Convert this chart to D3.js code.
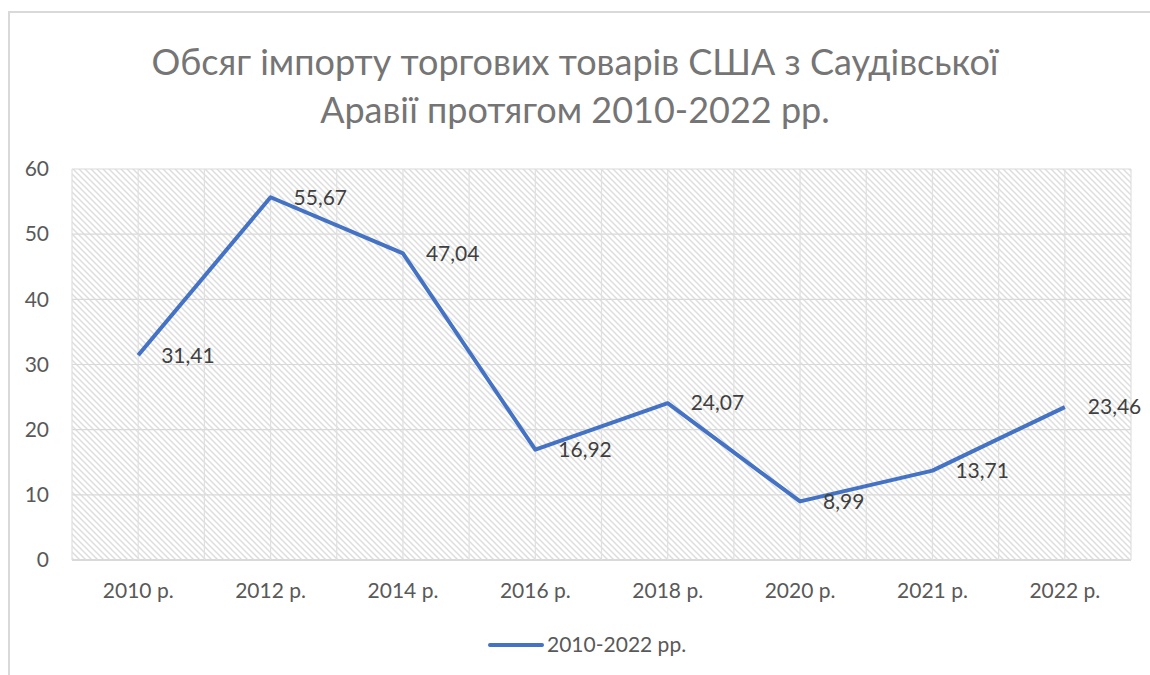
<!DOCTYPE html>
<html><head><meta charset="utf-8">
<script src="https://cdn.jsdelivr.net/npm/d3@7"></script>
<style>body{margin:0;background:#fff}svg{display:block}</style>
</head><body>
<svg id="c" width="1150" height="675"></svg>
<script>
const categories = ["2010 р.","2012 р.","2014 р.","2016 р.","2018 р.","2020 р.","2021 р.","2022 р."];
const values = [31.41, 55.67, 47.04, 16.92, 24.07, 8.99, 13.71, 23.46];
const yTicks = [0,10,20,30,40,50,60];
const titleLines = ["Обсяг імпорту торгових товарів США з Саудівської","Аравії протягом 2010-2022 рр."];
const seriesName = "2010-2022 рр.";

const svg = d3.select("#c");
const font = "Lato, 'Open Sans', sans-serif";
const m = {l:72, r:1131, t:169, b:560};

// chart border
svg.append("rect").attr("x",9).attr("y",12).attr("width",1160).attr("height",700)
  .attr("fill","#fff").attr("stroke","#d9d9d9").attr("stroke-width",2);

// pattern
const defs = svg.append("defs");
const pat = defs.append("pattern").attr("id","hatch").attr("patternUnits","userSpaceOnUse")
  .attr("width",6).attr("height",6);
pat.append("rect").attr("width",6).attr("height",6).attr("fill","#fff");
pat.append("path").attr("d","M-1,-1 L7,7 M-1,5 L1,7 M5,-1 L7,1").attr("stroke","#dedede").attr("stroke-width",1.5);

const x = d3.scaleBand().domain(categories).range([m.l,m.r]);
const y = d3.scaleLinear().domain([0,60]).range([m.b,m.t]);

svg.append("rect").attr("x",m.l).attr("y",m.t).attr("width",m.r-m.l).attr("height",m.b-m.t).attr("fill","url(#hatch)");

// gridlines
const g = svg.append("g");
yTicks.forEach(t=>{
  g.append("line").attr("x1",m.l).attr("x2",m.r).attr("y1",y(t)).attr("y2",y(t))
   .attr("stroke","#d9d9d9").attr("stroke-width",t===0?2:1.2);
});
categories.forEach((c,i)=>{
  [x(c), x(c)+x.bandwidth()/2].forEach(px=>{
    g.append("line").attr("x1",px).attr("x2",px).attr("y1",m.t).attr("y2",m.b)
     .attr("stroke","#e0e0e0").attr("stroke-width",1.2);
  });
});
g.append("line").attr("x1",m.r).attr("x2",m.r).attr("y1",m.t).attr("y2",m.b).attr("stroke","#e0e0e0").attr("stroke-width",1.2);

// axes labels
const yAxis = d3.axisLeft(y).tickValues(yTicks).tickSize(0).tickPadding(0);
const ya = svg.append("g").attr("transform",`translate(49,0)`).call(yAxis);
ya.select(".domain").remove();
ya.selectAll("text").attr("font-family",font).attr("font-size",21).attr("fill","#595959");

const xAxis = d3.axisBottom(x).tickSize(0).tickPadding(0);
const xa = svg.append("g").attr("transform",`translate(0,${m.b+23})`).call(xAxis);
xa.select(".domain").remove();
xa.selectAll("text").attr("font-family",font).attr("font-size",21).attr("fill","#595959");

// line
const cx = c => x(c)+x.bandwidth()/2;
const line = d3.line().x((d,i)=>cx(categories[i])).y(d=>y(d));
svg.append("path").datum(values).attr("d",line).attr("fill","none")
  .attr("stroke","#4472C4").attr("stroke-width",4).attr("stroke-linejoin","round");

// data labels
svg.append("g").selectAll("text").data(values).join("text")
  .attr("x",(d,i)=>cx(categories[i])+23).attr("y",d=>y(d)).attr("dy","0.35em")
  .attr("font-family",font).attr("font-size",21).attr("fill","#404040")
  .text(d=>d3.format(".2f")(d).replace(".",","));

// title
svg.append("g").selectAll("text").data(titleLines).join("text")
  .attr("x",575).attr("y",(d,i)=>75+i*48).attr("text-anchor","middle")
  .attr("font-family",font).attr("font-size",36).attr("fill","#757575").text(d=>d);

// legend
svg.append("line").attr("x1",490).attr("x2",542).attr("y1",645).attr("y2",645)
  .attr("stroke","#4472C4").attr("stroke-width",4).attr("stroke-linecap","round");
svg.append("text").attr("x",547).attr("y",645).attr("dy","0.35em")
  .attr("font-family",font).attr("font-size",21).attr("fill","#595959").text(seriesName);
</script>
</body></html>
